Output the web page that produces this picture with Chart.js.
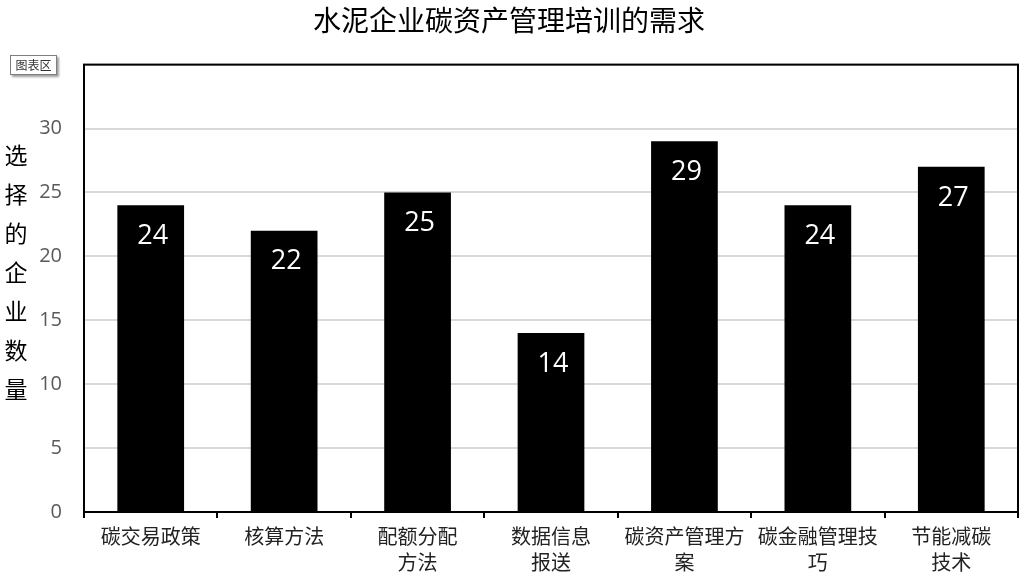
<!DOCTYPE html>
<html>
<head>
<meta charset="utf-8">
<script src="https://cdn.jsdelivr.net/npm/chart.js@4"></script>
<style>
    html, body { margin: 0; padding: 0; background: #fff; }
    #wrap { position: relative; width: 1022px; height: 581px; }
    #tag {
        position: absolute; left: 10px; top: 55px; width: 45px; height: 18px;
        border: 1px solid #7f7f7f; background: #fff; box-shadow: 2px 2px 2px #a0a0a0;
        font: 12px "Noto Sans CJK SC", sans-serif; color: #333; text-align: center; line-height: 18px;
    }
</style>
</head>
<body>
<div id="wrap">
    <canvas id="chart" width="1022" height="581"></canvas>
    <div id="tag">图表区</div>
</div>
<script>
const categories = [
    "碳交易政策",
    "核算方法",
    ["配额分配", "方法"],
    ["数据信息", "报送"],
    ["碳资产管理方", "案"],
    ["碳金融管理技", "巧"],
    ["节能减碳", "技术"],
];
const counts = [24, 22, 25, 14, 29, 24, 27];
const yTitle = "选择的企业数量";
const chartTitle = "水泥企业碳资产管理培训的需求";

const cjk = '"Noto Sans CJK SC", sans-serif';

// white numbers inside the top of each bar, plus the frame and vertical axis title
const extras = {
    id: "extras",
    afterDatasetsDraw(chart) {
        const ctx = chart.ctx;
        const meta = chart.getDatasetMeta(0);
        ctx.save();
        ctx.fillStyle = "#fff";
        ctx.font = '27px "Open Sans", sans-serif';
        ctx.textAlign = "center";
        ctx.textBaseline = "middle";
        meta.data.forEach((bar, i) => {
            ctx.fillText(counts[i], bar.x + 2, bar.y + 31);
        });
        ctx.restore();
    },
    afterDraw(chart) {
        const ctx = chart.ctx;
        const a = chart.chartArea;
        ctx.save();
        ctx.strokeStyle = "#000";
        ctx.lineWidth = 2;
        ctx.strokeRect(a.left, a.top, a.right - a.left, a.bottom - a.top);
        ctx.fillStyle = "#000";
        ctx.font = "23px " + cjk;
        ctx.textAlign = "center";
        ctx.textBaseline = "middle";
        [...yTitle].forEach((ch, i) => {
            ctx.fillText(ch, 16, 155 + i * 39);
        });
        ctx.restore();
    },
};

new Chart(document.getElementById("chart"), {
    type: "bar",
    data: {
        labels: categories,
        datasets: [
            {
                data: counts,
                backgroundColor: "#000",
                borderWidth: 0,
                barPercentage: 1,
                categoryPercentage: 0.5,
            },
        ],
    },
    options: {
        responsive: false,
        animation: false,
        layout: { padding: { left: 0, right: 4, top: 0, bottom: 0 } },
        plugins: {
            legend: { display: false },
            tooltip: { enabled: false },
            title: {
                display: true,
                text: chartTitle,
                color: "#000",
                font: { family: cjk, size: 28, weight: "normal", lineHeight: 1.2 },
                padding: { top: 4, bottom: 27 },
            },
        },
        scales: {
            x: {
                grid: {
                    offset: true,
                    drawOnChartArea: false,
                    drawTicks: true,
                    tickLength: 6,
                    color: "#000",
                    lineWidth: 2,
                },
                border: { color: "#000", width: 2 },
                ticks: {
                    color: "#222",
                    font: { family: cjk, size: 20, lineHeight: 1.3 },
                    maxRotation: 0,
                    autoSkip: false,
                    padding: 5,
                },
                afterFit(s) { s.height = 69; },
            },
            y: {
                min: 0,
                max: 35,
                ticks: {
                    stepSize: 5,
                    color: "#595959",
                    font: { family: '"Open Sans", sans-serif', size: 20 },
                    padding: 22,
                    callback: (v) => (v === 35 ? "" : v),
                },
                grid: { color: "#d9d9d9", lineWidth: 2, drawTicks: false },
                border: { color: "#000", width: 2 },
                afterFit(s) { s.width = 84; },
            },
        },
    },
    plugins: [extras],
});
</script>
</body>
</html>
